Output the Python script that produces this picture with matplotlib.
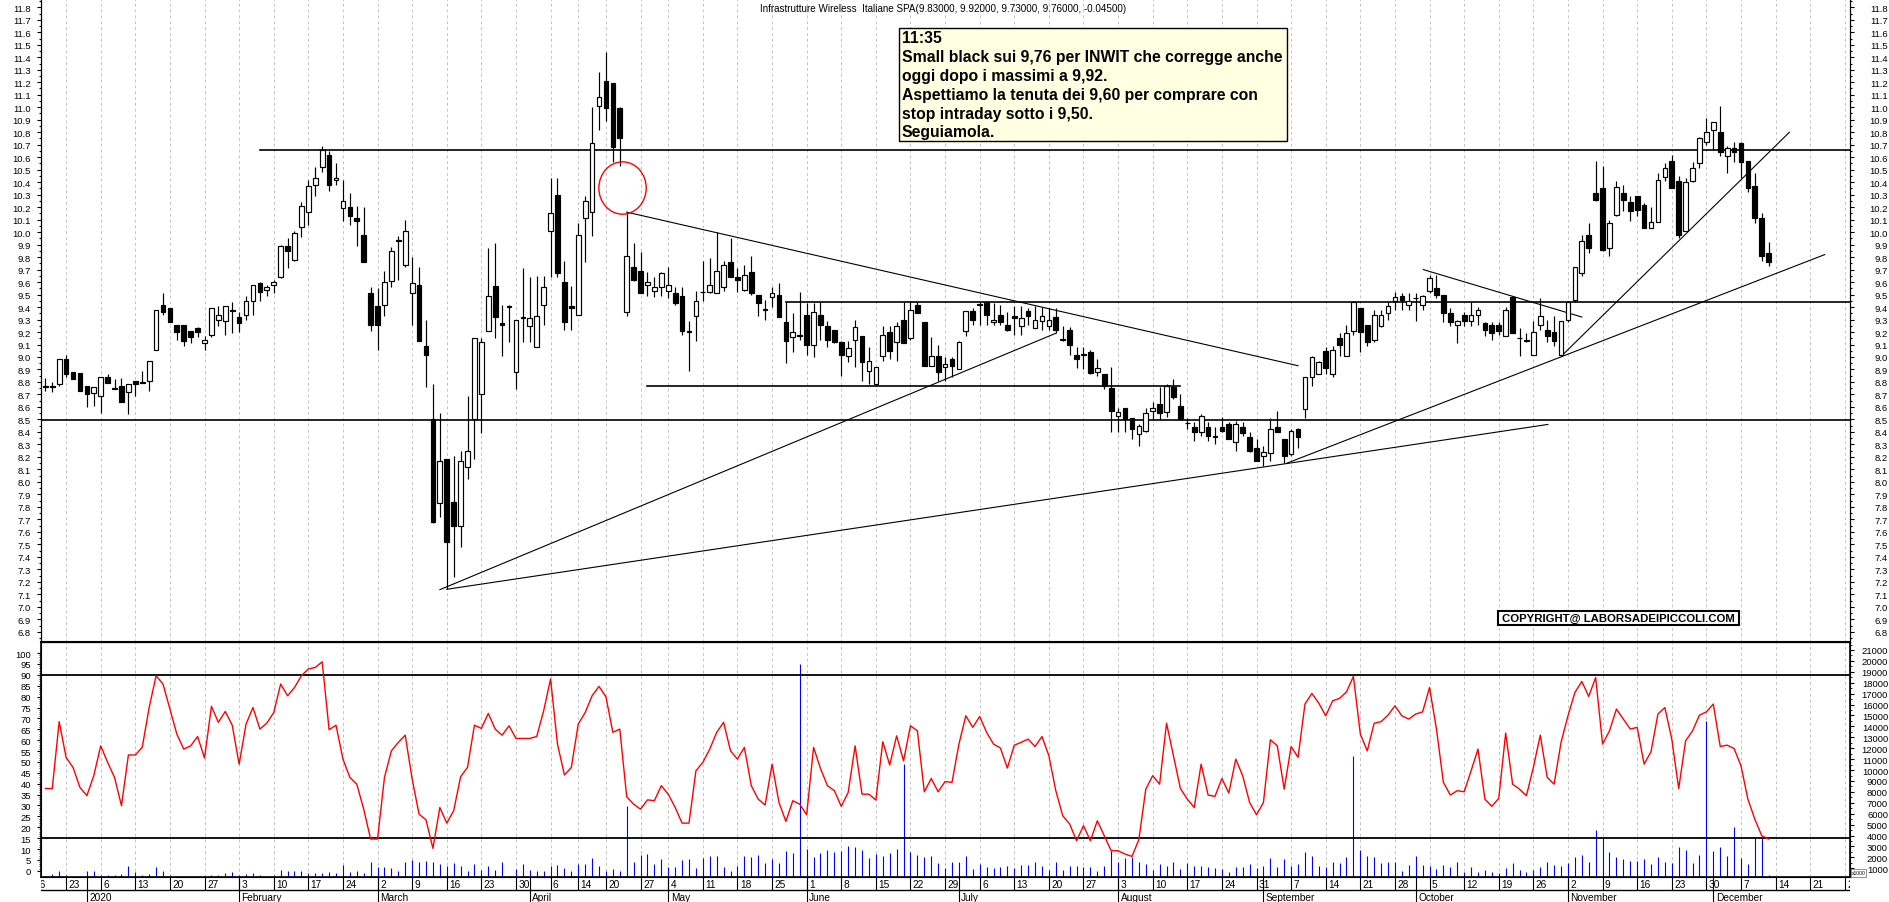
import numpy as np
import pandas as pd
import matplotlib
matplotlib.use("Agg")
import matplotlib.pyplot as plt
from matplotlib.patches import Ellipse, Rectangle
from matplotlib import font_manager as fm

W, H = 1890, 903

# daily candles, Dec 18 2019 -> Dec 11 2020
open_ = [8.77, 8.77, 8.78,
         8.98, 8.88, 8.87, 8.77, 8.71, 8.69, 8.84, 8.75, 8.77, 8.72,
         8.81, 8.80, 8.81, 9.06, 9.42, 9.39, 9.26, 9.26, 9.21, 9.23,
         9.11, 9.18, 9.30, 9.29, 9.38, 9.32, 9.34, 9.45, 9.59, 9.54,
         9.58, 9.64, 9.89, 9.78, 10.04, 10.16, 10.38, 10.52, 10.62, 10.42,
         10.19, 10.20, 10.11, 9.98, 9.51, 9.41, 9.42, 9.61, 9.93, 9.74,
         9.51, 9.58, 9.09, 8.50, 7.83, 8.18, 7.84, 7.65, 8.12, 8.50,
         8.70, 9.21, 9.57, 9.27, 9.41, 8.88, 9.32, 9.25, 9.08, 9.42,
         10.01, 10.30, 9.60, 9.41, 9.34, 10.11, 10.16, 11.01, 11.21, 11.19,
         10.99, 9.36, 9.72, 9.69, 9.58, 9.53, 9.56, 9.53, 9.51, 9.49,
         9.21, 9.33, 9.52, 9.52, 9.51, 9.56, 9.76, 9.64, 9.54, 9.68,
         9.50, 9.38, 9.48, 9.50, 9.28, 9.16, 9.18, 9.34, 9.10, 9.34,
         9.25, 9.22, 9.12, 9.01, 9.14, 9.17, 8.89, 8.78, 9.01, 9.20,
         9.12, 9.30, 9.15, 9.42, 9.28, 8.93, 9.01, 8.92, 8.98, 8.90,
         9.21, 9.37, 9.42, 9.44, 9.28, 9.34, 9.26, 9.33, 9.25, 9.37,
         9.23, 9.29, 9.25, 9.32, 9.14, 9.22, 9.02, 9.02, 9.04, 8.88,
         8.86, 8.75, 8.53, 8.59, 8.51, 8.38, 8.41, 8.57, 8.62, 8.56,
         8.76, 8.61, 8.47, 8.44, 8.40, 8.44, 8.36, 8.44, 8.46, 8.32,
         8.44, 8.36, 8.27, 8.21, 8.23, 8.44, 8.34, 8.22, 8.42, 8.58,
         8.84, 8.86, 9.05, 8.86, 9.15, 9.01, 9.21, 9.39, 9.26, 9.14,
         9.25, 9.35, 9.45, 9.49, 9.42, 9.47, 9.42, 9.53, 9.55, 9.50,
         9.35, 9.26, 9.34, 9.29, 9.34, 9.27, 9.26, 9.26, 9.17, 9.48,
         9.15, 9.13, 9.02, 9.26, 9.22, 9.20, 9.02, 9.30, 9.46, 9.67,
         9.98, 10.31, 10.35, 9.87, 10.14, 10.31, 10.24, 10.29, 10.22, 10.03,
         10.08, 10.44, 10.57, 10.41, 10.01, 10.41, 10.55, 10.72, 10.82, 10.80,
         10.61, 10.67, 10.71, 10.57, 10.37, 10.11, 9.83]
high_ = [8.83, 8.80, 8.98,
         9.02, 8.88, 8.87, 8.77, 8.76, 8.84, 8.86, 8.82, 8.83, 8.78,
         8.81, 8.89, 8.97, 9.38, 9.51, 9.39, 9.26, 9.26, 9.21, 9.24,
         9.17, 9.39, 9.41, 9.41, 9.44, 9.36, 9.49, 9.58, 9.60, 9.58,
         9.62, 9.90, 9.95, 10.01, 10.24, 10.42, 10.52, 10.69, 10.65, 10.55,
         10.42, 10.31, 10.21, 10.20, 9.56, 9.55, 9.69, 9.88, 9.97, 10.10,
         9.80, 9.72, 9.30, 8.78, 8.55, 8.18, 8.21, 8.25, 8.69, 9.15,
         9.15, 9.87, 9.91, 9.42, 9.42, 9.30, 9.71, 9.64, 9.65, 9.65,
         10.43, 10.43, 9.77, 9.57, 10.07, 10.29, 11.00, 11.28, 11.44, 11.19,
         11.00, 10.16, 9.91, 9.84, 9.68, 9.64, 9.68, 9.72, 9.56, 9.56,
         9.29, 9.53, 9.77, 9.79, 10.00, 9.77, 9.95, 9.71, 9.74, 9.81,
         9.50, 9.46, 9.56, 9.59, 9.44, 9.35, 9.52, 9.43, 9.43, 9.44,
         9.29, 9.22, 9.13, 9.13, 9.30, 9.17, 9.08, 8.92, 9.25, 9.25,
         9.28, 9.44, 9.45, 9.44, 9.28, 9.16, 9.10, 9.00, 9.00, 9.13,
         9.37, 9.39, 9.44, 9.44, 9.43, 9.42, 9.36, 9.41, 9.41, 9.39,
         9.41, 9.40, 9.39, 9.39, 9.25, 9.24, 9.08, 9.08, 9.06, 8.98,
         8.86, 8.92, 8.59, 8.59, 8.51, 8.46, 8.59, 8.64, 8.76, 8.78,
         8.82, 8.70, 8.51, 8.48, 8.54, 8.48, 8.44, 8.52, 8.48, 8.49,
         8.48, 8.40, 8.34, 8.29, 8.51, 8.57, 8.34, 8.42, 8.43, 8.84,
         9.01, 8.97, 9.08, 9.09, 9.19, 9.26, 9.45, 9.39, 9.26, 9.38,
         9.38, 9.45, 9.52, 9.51, 9.51, 9.51, 9.50, 9.66, 9.66, 9.50,
         9.39, 9.30, 9.36, 9.44, 9.40, 9.28, 9.28, 9.28, 9.40, 9.49,
         9.23, 9.19, 9.29, 9.47, 9.30, 9.33, 9.29, 9.45, 9.72, 9.98,
         10.07, 10.57, 10.53, 10.10, 10.41, 10.38, 10.29, 10.29, 10.23, 10.20,
         10.47, 10.55, 10.62, 10.45, 10.43, 10.56, 10.76, 10.91, 10.88, 11.01,
         10.69, 10.72, 10.72, 10.57, 10.47, 10.15, 9.92]
low_ = [8.73, 8.72, 8.77,
        8.84, 8.82, 8.73, 8.60, 8.61, 8.55, 8.79, 8.74, 8.64, 8.54,
        8.69, 8.79, 8.73, 9.06, 9.34, 9.28, 9.14, 9.09, 9.11, 9.16,
        9.06, 9.16, 9.25, 9.18, 9.19, 9.20, 9.30, 9.34, 9.45, 9.49,
        9.51, 9.63, 9.71, 9.77, 9.96, 10.06, 10.29, 10.48, 10.33, 10.38,
        10.09, 10.06, 9.89, 9.76, 9.21, 9.06, 9.33, 9.56, 9.62, 9.72,
        9.26, 9.13, 8.76, 7.67, 7.72, 7.14, 7.24, 7.48, 8.02, 8.18,
        8.39, 9.21, 9.15, 9.01, 9.12, 8.74, 9.12, 9.12, 9.08, 9.26,
        9.64, 9.64, 9.22, 9.22, 9.34, 9.76, 9.97, 10.82, 10.89, 10.56,
        10.53, 9.33, 9.61, 9.51, 9.49, 9.48, 9.49, 9.47, 9.42, 9.18,
        8.89, 9.13, 9.45, 9.51, 9.51, 9.53, 9.64, 9.52, 9.53, 9.50,
        9.33, 9.30, 9.40, 9.32, 8.95, 9.04, 9.14, 9.02, 9.00, 9.14,
        9.08, 9.11, 8.85, 8.96, 8.92, 8.81, 8.78, 8.77, 8.97, 8.98,
        8.97, 9.11, 9.14, 9.35, 8.93, 8.93, 8.81, 8.81, 8.84, 8.90,
        9.17, 9.26, 9.26, 9.26, 9.26, 9.26, 9.21, 9.18, 9.18, 9.26,
        9.23, 9.22, 9.22, 9.19, 9.13, 9.02, 8.91, 8.90, 8.86, 8.85,
        8.74, 8.40, 8.40, 8.40, 8.34, 8.29, 8.40, 8.50, 8.50, 8.52,
        8.66, 8.50, 8.42, 8.33, 8.37, 8.33, 8.30, 8.40, 8.34, 8.25,
        8.37, 8.24, 8.17, 8.13, 8.17, 8.40, 8.15, 8.21, 8.27, 8.51,
        8.77, 8.86, 8.86, 8.84, 9.01, 9.01, 9.18, 9.04, 9.09, 9.12,
        9.24, 9.30, 9.38, 9.38, 9.38, 9.29, 9.38, 9.51, 9.47, 9.28,
        9.25, 9.11, 9.25, 9.25, 9.26, 9.17, 9.14, 9.18, 9.17, 9.19,
        9.01, 9.12, 9.02, 9.22, 9.12, 9.09, 9.01, 9.28, 9.44, 9.65,
        9.83, 10.25, 9.85, 9.81, 10.13, 10.17, 10.09, 10.13, 10.03, 10.03,
        10.08, 10.41, 10.35, 9.95, 10.01, 10.40, 10.51, 10.70, 10.66, 10.61,
        10.47, 10.56, 10.43, 10.32, 10.07, 9.77, 9.73]
close_ = [8.76, 8.76, 8.98,
          8.86, 8.82, 8.73, 8.70, 8.76, 8.84, 8.79, 8.74, 8.64, 8.78,
          8.78, 8.79, 8.97, 9.38, 9.36, 9.28, 9.20, 9.13, 9.16, 9.20,
          9.14, 9.39, 9.34, 9.41, 9.37, 9.27, 9.45, 9.58, 9.52, 9.56,
          9.60, 9.89, 9.85, 9.99, 10.21, 10.37, 10.43, 10.66, 10.38, 10.43,
          10.25, 10.13, 10.09, 9.76, 9.26, 9.26, 9.60, 9.85, 9.94, 10.01,
          9.59, 9.13, 9.02, 7.68, 8.17, 7.52, 7.65, 8.17, 8.25, 9.15,
          9.12, 9.49, 9.32, 9.26, 9.40, 9.30, 9.31, 9.31, 9.33, 9.56,
          10.15, 9.67, 9.28, 9.39, 9.98, 10.25, 10.71, 11.08, 10.99, 10.68,
          10.75, 9.81, 9.62, 9.51, 9.60, 9.56, 9.67, 9.58, 9.43, 9.21,
          9.20, 9.45, 9.52, 9.58, 9.69, 9.74, 9.64, 9.62, 9.66, 9.51,
          9.43, 9.38, 9.51, 9.32, 9.13, 9.20, 9.17, 9.10, 9.36, 9.26,
          9.14, 9.12, 9.02, 9.07, 9.24, 8.96, 8.97, 8.92, 9.18, 9.05,
          9.25, 9.11, 9.38, 9.35, 8.93, 9.01, 8.88, 8.94, 8.93, 9.12,
          9.37, 9.30, 9.42, 9.34, 9.30, 9.28, 9.22, 9.31, 9.31, 9.33,
          9.30, 9.33, 9.30, 9.22, 9.14, 9.10, 8.98, 9.02, 8.87, 8.91,
          8.77, 8.57, 8.56, 8.50, 8.42, 8.45, 8.55, 8.59, 8.55, 8.77,
          8.68, 8.50, 8.47, 8.40, 8.53, 8.37, 8.36, 8.41, 8.34, 8.46,
          8.39, 8.25, 8.17, 8.24, 8.42, 8.40, 8.21, 8.41, 8.36, 8.84,
          9.00, 8.96, 8.91, 9.06, 9.10, 9.19, 9.44, 9.20, 9.12, 9.34,
          9.34, 9.41, 9.48, 9.46, 9.45, 9.47, 9.49, 9.63, 9.50, 9.35,
          9.28, 9.29, 9.29, 9.34, 9.38, 9.22, 9.19, 9.21, 9.38, 9.19,
          9.15, 9.13, 9.20, 9.33, 9.17, 9.13, 9.29, 9.44, 9.72, 9.93,
          9.87, 10.26, 9.86, 10.07, 10.36, 10.26, 10.17, 10.18, 10.03, 10.08,
          10.42, 10.51, 10.35, 9.98, 10.40, 10.51, 10.75, 10.80, 10.88, 10.64,
          10.67, 10.64, 10.56, 10.35, 10.11, 9.81, 9.76]

# oscillator (left scale, 0-100)
osc = [37.8, 37.8, 68.5,
       52.1, 47.5, 38.3, 34.5, 43.7, 57.4, 49.8, 42.9, 29.9, 53.2,
       53.2, 56.7, 75.0, 89.6, 85.8, 74.3, 62.8, 55.9, 57.4, 61.7,
       51.8, 75.5, 68.2, 73.2, 66.9, 49.0, 67.4, 75.0, 65.1, 67.8,
       72.7, 85.8, 80.4, 84.2, 89.6, 92.7, 93.4, 96.0, 64.8, 66.9,
       51.3, 42.9, 39.8, 28.3, 14.6, 14.6, 42.9, 55.1, 59.0, 62.3,
       42.1, 26.0, 23.4, 10.3, 29.1, 21.9, 27.6, 43.2, 47.5, 66.9,
       65.4, 72.3, 65.1, 62.3, 66.6, 60.8, 60.8, 60.8, 61.7, 73.5,
       88.1, 58.2, 44.0, 47.5, 67.4, 72.7, 80.4, 84.7, 79.9, 63.6,
       65.1, 34.0, 30.6, 28.3, 32.6, 32.2, 39.1, 35.2, 29.1, 21.9,
       21.9, 45.9, 49.8, 55.9, 63.6, 68.2, 55.1, 51.3, 56.7, 39.1,
       32.9, 30.2, 49.0, 31.4, 22.7, 32.2, 30.6, 25.7, 56.7, 47.0,
       39.1, 36.8, 29.6, 36.0, 57.4, 35.2, 35.2, 32.5, 59.3, 48.6,
       62.0, 50.5, 66.6, 64.3, 36.3, 42.4, 36.3, 41.0, 40.6, 58.2,
       71.2, 65.9, 70.9, 63.6, 58.2, 56.4, 47.2, 57.7, 59.0, 60.5,
       57.1, 61.7, 52.8, 36.8, 25.3, 21.5, 13.8, 20.7, 13.8, 23.0,
       16.1, 9.2, 9.2, 7.7, 6.6, 14.3, 37.5, 43.7, 39.8, 67.8,
       52.8, 37.8, 32.9, 29.1, 49.0, 34.8, 34.2, 42.4, 35.7, 51.3,
       43.7, 31.4, 25.7, 31.4, 60.2, 57.4, 37.5, 57.1, 52.1, 76.6,
       81.5, 77.0, 71.2, 78.1, 79.2, 82.2, 89.3, 62.8, 55.1, 67.8,
       68.5, 71.5, 75.8, 71.2, 69.7, 72.0, 73.0, 84.2, 65.1, 40.6,
       34.8, 36.8, 36.3, 45.9, 55.9, 32.9, 29.6, 33.3, 63.3, 39.8,
       37.5, 34.5, 47.5, 62.3, 42.9, 39.8, 59.0, 71.2, 81.9, 87.0,
       80.1, 88.8, 58.2, 64.3, 74.3, 69.7, 65.1, 65.9, 49.0, 54.7,
       72.0, 75.0, 60.5, 37.8, 59.7, 64.3, 71.5, 73.0, 76.6, 57.1,
       57.7, 56.2, 48.2, 32.9, 23.7, 16.1, 14.6]

# volume (right scale, x1000)
volume = [260, 480, 750,
          380, 230, 320, 780, 780, 380, 380, 380, 480, 1180,
          630, 380, 480, 1090, 750, 380, 320, 260, 200, 260,
          320, 380, 380, 570, 690, 380, 450, 540, 380, 260,
          380, 840, 750, 750, 750, 570, 570, 570, 630, 570,
          1300, 690, 780, 570, 1600, 1150, 1090, 1020, 780, 1600,
          1790, 1540, 1670, 1600, 1390, 1240, 1480, 1240, 780, 1390,
          870, 1240, 870, 1600, 320, 930, 1390, 840, 780, 780,
          1240, 1300, 1020, 780, 1390, 1390, 1940, 1240, 780, 930,
          780, 6730, 1540, 2210, 2310, 1390, 1850, 1090, 1090, 1760,
          1850, 1020, 1910, 2150, 2090, 1090, 780, 1240, 2090, 2000,
          2240, 1480, 1850, 1480, 2610, 2400, 19690, 2760, 2000, 2400,
          2670, 2460, 2610, 3010, 2920, 2640, 1910, 2280, 2150, 2400,
          2760, 10540, 2460, 2210, 2000, 2090, 1480, 990, 1540, 1540,
          2090, 930, 1390, 1090, 1020, 1090, 1180, 990, 1300, 1300,
          1540, 1240, 870, 1540, 870, 1180, 1180, 1090, 1090, 750,
          1180, 2610, 1540, 1910, 2000, 1540, 1390, 870, 1390, 1240,
          1540, 930, 1480, 1240, 1240, 1090, 990, 930, 630, 1090,
          1090, 1390, 990, 1180, 1910, 1090, 1850, 1240, 1390, 2520,
          2150, 1180, 1090, 1540, 1480, 2000, 11300, 2670, 2090, 2000,
          1480, 1540, 1540, 780, 1300, 2090, 1300, 1180, 930, 1300,
          1090, 1540, 690, 1090, 690, 870, 630, 570, 990, 1480,
          870, 690, 840, 1090, 1540, 1300, 1240, 1480, 2000, 2210,
          1540, 4500, 3890, 2460, 2000, 1850, 1700, 1700, 1850, 1390,
          2000, 1540, 1480, 2920, 2670, 1480, 2210, 14500, 2610, 2920,
          2150, 4810, 1940, 1390, 3830, 3830, 380]

# drawn studies: (x0, y0, x1, y1), x in trading days from Dec 23 2019
trend_lines = [(81.0, 10.16, 178.0, 8.93),
               (54.0, 7.137, 143.0, 9.19),
               (55.0, 7.14, 214.1, 8.46),
               (176.4, 8.15, 254.1, 9.82),
               (216.1, 9.01, 249.0, 10.80),
               (196.1, 9.70, 219.0, 9.32)]
levels = [(28.0, 258.0, 10.66), (-4.0, 258.0, 8.497), (104.0, 258.0, 9.44), (83.9, 161.0, 8.77)]

note = ["11:35",
        "Small black sui 9,76 per INWIT che corregge anche",
        "oggi dopo i massimi a 9,92.",
        "Aspettiamo la tenuta dei 9,60 per comprare con",
        "stop intraday sotto i 9,50.",
        "Seguiamola."]

# trading calendar
holidays = pd.to_datetime(["2019-12-24", "2019-12-25", "2019-12-26", "2019-12-31",
                           "2020-01-01", "2020-04-10", "2020-04-13", "2020-05-01"])
days = pd.bdate_range("2019-12-16", "2020-12-11")
days = days[~days.isin(holidays)]
days = days.append(pd.bdate_range("2020-12-14", "2020-12-31"))
pos = np.arange(len(days)) - days.get_loc(pd.Timestamp("2019-12-23"))
start = days.get_loc(pd.Timestamp("2019-12-18"))
xc = pos[start:start + len(close_)]

plt.rcParams['font.family'] = ['Liberation Sans', 'DejaVu Sans']


def have(name):
    try:
        fm.findfont(fm.FontProperties(family=name), fallback_to_default=False)
        return True
    except ValueError:
        return False


XL = (-3.627, 257.75)
L = 41 / W
AW = (1850 - 41) / W
grid_kw = dict(color='#c2c2c2', lw=0.7, ls=(0, (3.0, 3.0)), zorder=0)

monday = days - pd.to_timedelta(days.weekday, unit='D')
wk_first = np.r_[True, monday[1:] != monday[:-1]] & (days != pd.Timestamp("2019-12-30"))
mon = days.to_period('M')
m_first = np.r_[False, mon[1:] != mon[:-1]]

fig = plt.figure(figsize=(W / 100, H / 100), dpi=100)
renderer = fig.canvas.get_renderer()


def fit_width(texts, target_px):
    # scale font so the widest text spans target_px
    w = max(t.get_window_extent(renderer).width for t in texts)
    for t in texts:
        t.set_fontsize(t.get_fontsize() * target_px / w)


# ---- price panel ----
ax = fig.add_axes([L, 1 - 643 / H, AW, 643 / H])
ax.set_xlim(XL)
ax.set_ylim(6.718, 11.8665)
for x in pos[wk_first]:
    ax.axvline(x, **grid_kw)

o = np.array(open_); hi = np.array(high_); lo = np.array(low_); c = np.array(close_)
up = c >= o
ax.vlines(xc, lo, hi, color='black', lw=0.85, zorder=3)
ax.bar(xc, np.maximum(np.abs(c - o), 0.004), bottom=np.minimum(o, c), width=0.68,
       color=np.where(up, 'white', 'black'), edgecolor='black', linewidth=0.85, zorder=4)

for x0, x1, y in levels:
    ax.plot([x0, x1], [y, y], color='black', lw=1.2, zorder=2)
for x0, y0, x1, y1 in trend_lines:
    ax.plot([x0, x1], [y0, y1], color='black', lw=0.8, zorder=2)
ax.add_patch(Ellipse((80.4, 10.353), 6.84, 0.419, fill=False, edgecolor='red', lw=1.0, zorder=5))

pticks = np.round(np.arange(6.8, 11.81, 0.1), 1)
plabels = [f"{v:.1f}" for v in pticks]
ax.set_yticks(pticks, plabels)
ax.set_yticks(np.arange(6.75, 11.86, 0.1), minor=True)
ax.tick_params(axis='y', which='major', direction='out', length=3, width=0.8, pad=4.2, labelsize=6.8)
ax.tick_params(axis='y', which='minor', direction='out', length=1.5, width=0.8)
ax.tick_params(axis='x', which='both', bottom=False, labelbottom=False)
ax.spines['top'].set_visible(False)
ax.spines['bottom'].set_linewidth(1.5)

axr = ax.twinx()
axr.set_ylim(ax.get_ylim())
axr.set_yticks(pticks, plabels, ha='right')
axr.set_yticks(np.arange(6.75, 11.86, 0.1), minor=True)
axr.tick_params(axis='y', which='major', direction='out', length=3, width=0.8, pad=24.4, labelsize=6.8)
axr.tick_params(axis='y', which='minor', direction='out', length=1.5, width=0.8)
axr.spines['top'].set_visible(False)

# ---- oscillator / volume panel ----
ax2 = fig.add_axes([L, 1 - 878 / H, AW, 235 / H])
ax2v = ax2.twinx()
ax2.set_zorder(ax2v.get_zorder() + 1)
ax2.patch.set_visible(False)
ax2.set_xlim(XL)
ax2.set_ylim(-2.85, 105.1)
ax2v.set_ylim(202, 21731)
for x in pos[wk_first]:
    ax2v.axvline(x, **grid_kw)
ax2v.vlines(xc, 0, volume, color='#0000ff', lw=0.8, zorder=2)
ax2.plot(xc, osc, color='#ff0000', lw=1.0, zorder=3)
ax2.axhline(90, color='black', lw=1.3, zorder=2)
ax2.axhline(15, color='black', lw=1.3, zorder=2)

ax2.set_yticks(np.arange(0, 101, 5), [str(v) for v in range(0, 101, 5)])
ax2.set_yticks(np.arange(0, 101, 1), minor=True)
ax2.tick_params(axis='y', which='major', direction='out', length=3, width=0.8, pad=4.2, labelsize=6.8)
ax2.tick_params(axis='y', which='minor', direction='out', length=1.5, width=0.6)
ax2.tick_params(axis='x', which='both', bottom=False, labelbottom=False)
vt = np.arange(1000, 21001, 1000)
ax2v.set_yticks(vt, [str(v) for v in vt], ha='right')
ax2v.set_yticks(np.arange(500, 21600, 500), minor=True)
ax2v.tick_params(axis='y', which='major', direction='out', length=3, width=0.8, pad=24.4, labelsize=6.8)
ax2v.tick_params(axis='y', which='minor', direction='out', length=1.5, width=0.6)
for sp in ax2.spines.values():
    sp.set_linewidth(1.2)

# ---- date rows ----
ax3 = fig.add_axes([L, 0, AW, 25 / H])
ax3.set_xlim(XL)
ax3.set_ylim(0, 25)
ax3.axis('off')
ax3.axhline(12, color='black', lw=1.0)
for x, d in zip(pos[wk_first], days[wk_first]):
    ax3.vlines(x, 12, 25, color='black', lw=0.8)
    t = ax3.text(x + 0.35, 18.3, str(d.day), fontsize=7.3, ha='left', va='center')
    t.set_clip_on(True); t.set_clip_box(ax3.bbox)
for x, d in zip(pos[m_first], days[m_first]):
    ax3.vlines(x, 0, 25, color='black', lw=0.8)
    name = str(d.year) if d.month == 1 else d.strftime('%B')
    t = ax3.text(x + 0.35, 5.2, name, fontsize=7.3, ha='left', va='center')
    t.set_clip_on(True); t.set_clip_box(ax3.bbox)

# ---- texts ----
title = fig.text(760 / W, 1 - 9 / H,
                 "Infrastrutture Wireless  Italiane SPA(9.83000, 9.92000, 9.73000, 9.76000, -0.04500)",
                 fontsize=6.4, ha='left', va='center')
fit_width([title], 370)

fig.add_artist(Rectangle((899.5 / W, 1 - 142.3 / H), 387.2 / W, 113 / H, transform=fig.transFigure,
                         facecolor='#ffffe1', edgecolor='black', lw=1.0))
if have('Liberation Sans Narrow'):
    nkw = dict(family='Liberation Sans Narrow', fontsize=12.2)
else:
    nkw = dict(family='Liberation Sans', fontsize=9.9)
note_texts = [fig.text(902 / W, 1 - (38.5 + 18.9 * i) / H, line, fontweight='bold',
                       ha='left', va='center', **nkw) for i, line in enumerate(note)]
fit_width(note_texts, 381)

fig.add_artist(Rectangle((1498.3 / W, 1 - 626 / H), 241 / W, 13.7 / H, transform=fig.transFigure,
                         facecolor='white', edgecolor='black', lw=1.5))
cr = fig.text(1618.8 / W, 1 - 619.3 / H, "COPYRIGHT@ LABORSADEIPICCOLI.COM", fontsize=7.8,
              fontweight='bold', ha='center', va='center')
fit_width([cr], 235)

fig.add_artist(Rectangle((1851 / W, 1 - 877.5 / H), 15.5 / W, 8 / H, transform=fig.transFigure,
                         facecolor='white', edgecolor='#808080', lw=0.6))
fig.text(1858.8 / W, 1 - 873.5 / H, "x1000", fontsize=3.6, ha='center', va='center')

fig.savefig("out.png", dpi=100)
